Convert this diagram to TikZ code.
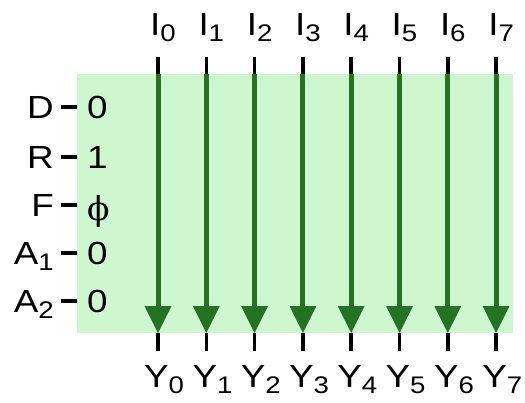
\documentclass[tikz,border=0pt]{standalone}
\usepackage{fontspec}
\setmainfont[FakeStretch=1.15]{Liberation Sans}
\newfontfamily\phifont{DejaVu Serif}
\usetikzlibrary{calc}
\definecolor{bgg}{RGB}{206,247,208}
\definecolor{arrg}{RGB}{36,114,36}
\newcommand{\sublab}[2]{#1\raisebox{-6pt}{\fontsize{24}{24}\selectfont #2}}
\tikzset{
  lbl/.style={inner sep=0pt, font=\fontsize{32}{32}\selectfont},
  stub/.style={line width=3.5pt, black},
  shaft/.style={line width=5pt, arrg},
}
\begin{document}
\begin{tikzpicture}[x=1pt,y=-1pt]
\useasboundingbox (0,0) rectangle (525,402);
\fill[bgg] (77,74) rectangle (513,333);
% columns
\foreach \i in {0,...,7}{
  \pgfmathsetmacro{\cx}{158+48.3*\i}
  \coordinate (t\i) at (\cx,57);
  \coordinate (b\i) at (\cx,74);
  \coordinate (h\i) at (\cx,306);
  \coordinate (p\i) at (\cx,333);
  \coordinate (e\i) at (\cx,351);
  \draw[stub] (t\i) -- (b\i);
  \draw[shaft] (b\i) -- (h\i);
  \fill[arrg] ($(h\i)+(-13.5,0)$) -- ($(h\i)+(13.5,0)$) -- (p\i) -- cycle;
  \draw[stub] (p\i) -- (e\i);
  \node[lbl, anchor=base west] (I\i) at ($(t\i)+(-8,-22)$) {\sublab{I}{\i}};
  \node[lbl, anchor=base west] (Y\i) at ($(e\i)+(-14,36)$) {\sublab{Y}{\i}};
}
% left inputs
\foreach \n/\v/\yy/\bb [count=\k] in {D/0/107/11, R/1/157/11, F/{\phifont\fontsize{33}{33}\selectfont ϕ}/205/15, \sublab{A}{1}/0/253/11, \sublab{A}{2}/0/301/11}{
  \coordinate (dl\k) at (61,\yy);
  \coordinate (dr\k) at (77,\yy);
  \draw[line width=3.5pt] (dl\k) -- (dr\k);
  \node[lbl, anchor=base east] (n\k) at (54,\yy+11) {\n};
  \node[lbl, anchor=base west] (v\k) at (87,\yy+\bb) {\v};
}
\end{tikzpicture}
\end{document}
